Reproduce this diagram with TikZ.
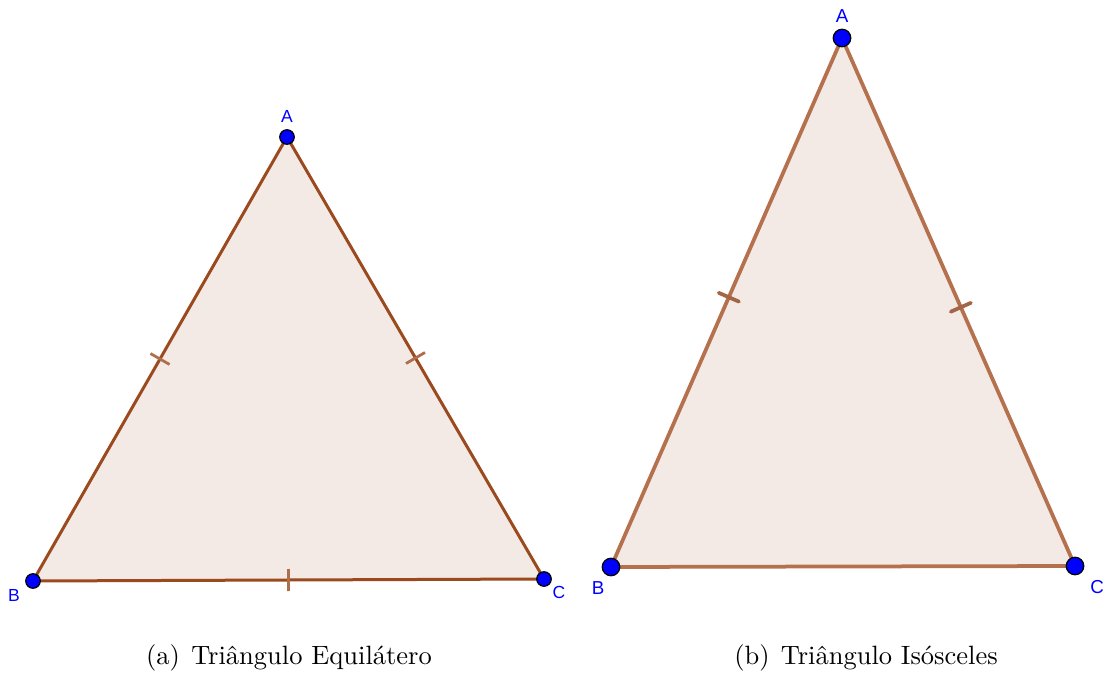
\documentclass[tikz,border=0pt]{standalone}
\usepackage{fontspec}
\newfontfamily\ggbfont{Liberation Sans}
\usetikzlibrary{calc}
\definecolor{EdgeDark}{HTML}{9A4A1E}
\definecolor{EdgeLight}{HTML}{B5704E}
\definecolor{FaceBack}{HTML}{F3EAE5}
\definecolor{PointBlue}{HTML}{0000FF}
\tikzset{pt/.style={circle,draw=black,fill=PointBlue,line width=.5pt,inner sep=0pt,minimum size=#1},
 lab/.style={text=PointBlue,font=\ggbfont\fontsize{#1}{#1}\selectfont,inner sep=0pt},
 side/.style={line width=#1,line join=round},
 subcap/.style={font=\fontsize{10.6}{12}\selectfont}}

\begin{document}
\begin{tikzpicture}[x=.4pt,y=-.4pt]
\useasboundingbox (0,0) rectangle (1111,677);
% equilateral
\coordinate (lA) at (287,137);\coordinate (lB) at (33,581);\coordinate (lC) at (544,579);
\fill[FaceBack] (lA)--(lB)--(lC)--cycle;
\draw[side=1.2pt,EdgeDark] (lA)--(lB)--(lC)--cycle;
\foreach \p/\q in {lB/lA,lA/lC,lB/lC}
 \draw[EdgeDark!80,line width=1.1pt] ($(\p)!0.5!(\q)!4.4pt!90:(\q)$)--($(\p)!0.5!(\q)!4.4pt!-90:(\q)$);
\foreach \v in {lA,lB,lC}\node[pt=5.8pt] (\v p) at (\v) {};
\node[lab=7pt] (lAl) at (287,116) {A};
\node[lab=7pt] (lBl) at (14,595) {B};
\node[lab=7pt] (lCl) at (559,592) {C};
% isosceles
\coordinate (rA) at (842,38);\coordinate (rB) at (611,567);\coordinate (rC) at (1075,566);
\fill[FaceBack] (rA)--(rB)--(rC)--cycle;
\draw[side=1.5pt,EdgeLight] (rA)--(rB)--(rC)--cycle;
\foreach \p/\q in {rB/rA,rA/rC}
 \draw[EdgeLight!90!black,line width=1.5pt,line cap=round] ($(\p)!0.51!(\q)!4.4pt!90:(\q)$)--($(\p)!0.51!(\q)!4.4pt!-90:(\q)$);
\foreach \v in {rA,rB,rC}\node[pt=7pt] (\v p) at (\v) {};
\node[lab=7.5pt] (rAl) at (842,16) {A};
\node[lab=7.5pt] (rBl) at (598,588) {B};
\node[lab=7.5pt] (rCl) at (1097,587) {C};
% captions
\node[subcap] (capa) at (289,658) {(a)\hspace{4.5pt}Triângulo Equilátero};
\node[subcap] (capb) at (866,658) {(b)\hspace{4.5pt}Triângulo Isósceles};
\end{tikzpicture}
\end{document}
